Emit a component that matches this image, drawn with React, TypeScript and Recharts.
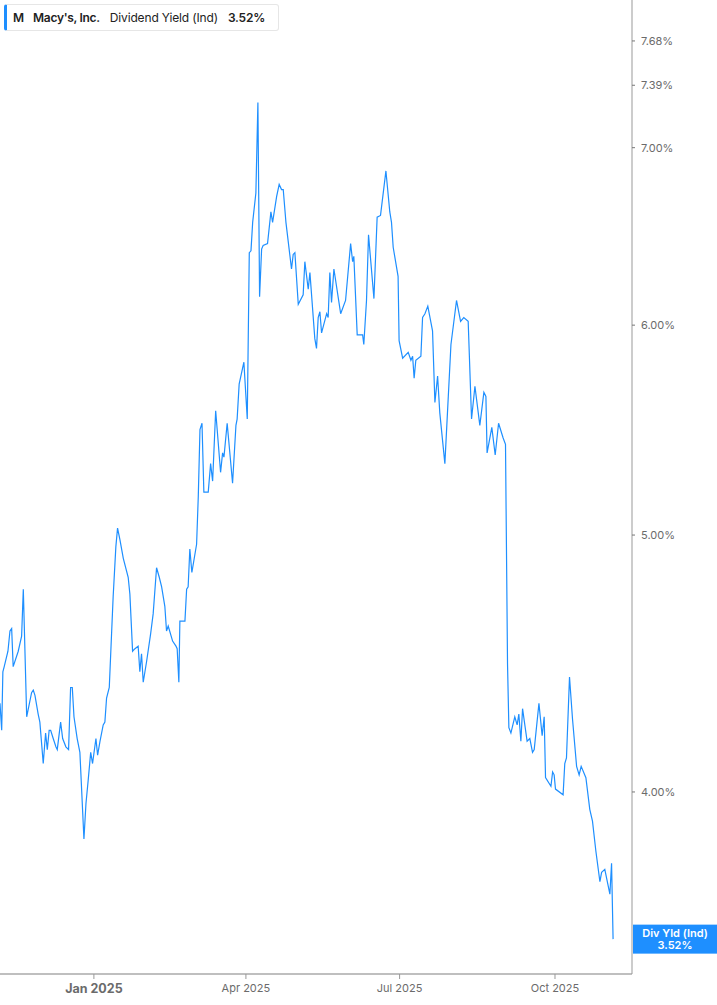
import React from 'react';
import { LineChart, Line, XAxis, YAxis, ReferenceLine } from 'recharts';

// day = calendar days since 2024-11-06 (approx), value = dividend yield in %
const days = [
  0.4, 1.4, 2.1, 2.9, 5.1, 6.3, 7.3, 8.2, 11.2, 13.2, 14.2, 16.2, 19.1, 20.1, 21.1, 23.0, 24.0, 26.0, 27.4, 28.4,
  29.5, 30.4, 31.9, 33.5, 34.3, 36.3, 37.5, 39.4, 41.0, 42.2, 43.2, 44.2, 46.1, 47.7, 50.1, 51.3, 52.6, 54.1, 55.2, 57.2,
  58.2, 59.6, 61.5, 62.5, 63.5, 65.1, 67.4, 69.0, 70.0, 71.4, 73.4, 76.3, 77.3, 78.9, 80.3, 82.2, 83.2, 84.2, 85.2, 87.2,
  89.6, 91.1, 93.1, 94.7, 96.1, 98.0, 99.0, 100.0, 102.6, 104.6, 105.3, 106.3, 106.9, 109.9, 110.9, 111.8, 112.8, 114.0, 116.8, 117.8,
  118.8, 120.0, 121.1, 123.7, 125.1, 126.3, 128.1, 131.0, 132.2, 133.0, 134.9, 138.1, 140.1, 140.8, 142.0, 144.8, 146.8, 148.0, 149.0, 150.0,
  151.9, 153.1, 154.1, 155.3, 156.2, 158.8, 160.8, 161.8, 164.2, 165.7, 167.1, 168.1, 169.7, 173.0, 174.0, 175.0, 177.0, 179.9, 180.9, 182.9,
  183.9, 186.8, 187.8, 188.8, 189.8, 190.8, 193.8, 194.7, 195.7, 196.7, 198.1, 202.1, 205.0, 208.0, 209.2, 209.9, 211.9, 215.1, 215.8, 217.4,
  218.6, 221.8, 223.7, 225.7, 228.9, 231.2, 232.2, 233.2, 236.1, 236.7, 238.8, 242.1, 243.7, 244.7, 245.6, 246.6, 249.6, 250.6, 252.0, 253.7,
  256.5, 257.9, 259.5, 260.8, 263.8, 267.4, 270.7, 273.1, 275.0, 277.6, 279.6, 281.6, 284.5, 286.9, 288.1, 288.8, 291.6, 293.6, 295.6, 298.3,
  299.7, 300.9, 301.7, 302.9, 305.2, 306.6, 307.6, 308.8, 309.8, 312.5, 314.1, 315.7, 316.7, 319.5, 321.4, 322.6, 323.4, 326.6, 327.6, 328.5,
  329.3, 333.8, 334.8, 335.8, 337.6, 339.4, 341.8, 343.3, 344.5, 347.3, 349.6, 351.2, 353.2, 355.6, 356.6, 358.5, 361.5, 362.5, 363.4,
];

const yields = [
  4.32, 4.22, 4.44, 4.46, 4.52, 4.60, 4.61, 4.46, 4.52, 4.58, 4.77, 4.27, 4.36, 4.37, 4.35, 4.28, 4.25, 4.10, 4.21, 4.15,
  4.22, 4.22, 4.19, 4.16, 4.15, 4.25, 4.19, 4.16, 4.15, 4.38, 4.38, 4.27, 4.19, 4.14, 3.84, 3.96, 4.04, 4.14, 4.10, 4.19,
  4.13, 4.18, 4.24, 4.25, 4.34, 4.38, 4.74, 4.95, 5.03, 4.98, 4.90, 4.82, 4.75, 4.52, 4.53, 4.54, 4.44, 4.51, 4.40, 4.48,
  4.59, 4.67, 4.86, 4.82, 4.78, 4.70, 4.60, 4.62, 4.56, 4.54, 4.53, 4.40, 4.64, 4.64, 4.77, 4.78, 4.94, 4.84, 4.96, 5.17,
  5.48, 5.51, 5.19, 5.19, 5.32, 5.24, 5.57, 5.28, 5.37, 5.35, 5.51, 5.23, 5.50, 5.53, 5.70, 5.81, 5.53, 6.39, 6.40, 6.56,
  6.73, 7.28, 6.15, 6.41, 6.43, 6.44, 6.62, 6.56, 6.71, 6.78, 6.75, 6.75, 6.56, 6.30, 6.38, 6.39, 6.11, 6.16, 6.34, 6.19,
  6.28, 5.93, 5.88, 6.04, 6.07, 5.96, 6.06, 6.04, 6.28, 6.12, 6.30, 6.06, 6.13, 6.44, 6.34, 6.37, 5.95, 5.95, 5.90, 6.13,
  6.49, 6.14, 6.59, 6.60, 6.86, 6.62, 6.56, 6.42, 6.26, 5.92, 5.83, 5.86, 5.82, 5.84, 5.73, 5.82, 5.84, 6.04, 6.06, 6.10,
  5.97, 5.61, 5.74, 5.56, 5.32, 5.90, 6.13, 6.02, 6.04, 6.02, 5.53, 5.69, 5.50, 5.66, 5.64, 5.37, 5.49, 5.36, 5.51, 5.44,
  5.41, 4.47, 4.23, 4.21, 4.27, 4.24, 4.28, 4.18, 4.30, 4.18, 4.19, 4.14, 4.15, 4.32, 4.20, 4.27, 4.05, 4.02, 4.07, 4.06,
  4.01, 3.99, 4.10, 4.12, 4.42, 4.26, 4.09, 4.06, 4.09, 4.05, 3.94, 3.90, 3.80, 3.70, 3.73, 3.74, 3.66, 3.76, 3.52,
];

const xTickDays = [56, 146, 237, 329];
const xTickLabels = ['Jan 2025', 'Apr 2025', 'Jul 2025', 'Oct 2025'];
const yTicks = [4, 5, 6, 7, 7.39, 7.68];
const lastValue = 3.52;

const data = days.map((d, i) => ({ day: d, value: yields[i] }));

const BLUE = '#1e8fff';
const FONT = 'Inter, "Noto Sans", Arial, sans-serif';

const XTick = (props: any) => {
  const { x, y, payload } = props;
  const idx = xTickDays.indexOf(payload.value);
  const bold = idx === 0;
  return (
    <text
      x={x}
      y={y}
      dy="0.71em"
      textAnchor="middle"
      fontFamily={FONT}
      fontSize={bold ? 12.5 : 11}
      fontWeight={bold ? 700 : 400}
      fill="#6b6b6b"
    >
      {xTickLabels[idx]}
    </text>
  );
};

const LastLabel = (props: any) => {
  const vb = props.viewBox || {};
  const x0 = vb.x + vb.width + 1;
  const yc = vb.y;
  return (
    <g>
      <rect x={x0} y={yc - 14.5} width={84} height={29} fill={BLUE} />
      <text x={x0 + 42} y={yc - 2} textAnchor="middle" fontFamily={FONT} fontSize={11} fontWeight={600} fill="#fff">
        Div Yld (Ind)
      </text>
      <text x={x0 + 42} y={yc + 10} textAnchor="middle" fontFamily={FONT} fontSize={11} fontWeight={600} fill="#fff">
        {lastValue.toFixed(2)}%
      </text>
    </g>
  );
};

export default function App() {
  return (
    <div style={{ position: 'absolute', left: 0, top: 0, width: 717, height: 1005, background: '#fff' }}>
      <LineChart width={717} height={1005} data={data} margin={{ top: 0, right: 0, bottom: 0, left: 0 }}>
        <XAxis
          dataKey="day"
          type="number"
          domain={[0.4, 374.6]}
          ticks={xTickDays}
          tick={<XTick />}
          height={31}
          axisLine={{ stroke: '#aaaaaa', strokeWidth: 1.5 }}
          tickLine={{ stroke: '#999999' }}
          tickSize={5}
          tickMargin={5}
          interval={0}
          allowDataOverflow
        />
        <YAxis
          orientation="right"
          scale="log"
          type="number"
          domain={[3.415, 7.958]}
          ticks={yTicks}
          allowDataOverflow
          width={85}
          interval={0}
          tickFormatter={(v: number) => `${v.toFixed(2)}%`}
          tick={{ fill: '#6b6b6b', fontSize: 11, fontFamily: FONT }}
          axisLine={{ stroke: '#999999' }}
          tickLine={{ stroke: '#777777' }}
          tickSize={3}
          tickMargin={6}
        />
        <Line
          type="linear"
          dataKey="value"
          stroke={BLUE}
          strokeWidth={1.2}
          dot={false}
          activeDot={false}
          isAnimationActive={false}
        />
        <ReferenceLine y={lastValue} stroke="none" label={(p: any) => <LastLabel {...p} />} />
      </LineChart>
      <div
        style={{
          position: 'absolute',
          left: 4,
          top: 4,
          height: 25,
          display: 'flex',
          alignItems: 'center',
          background: '#fff',
          border: '1px solid #e6e6e6',
          borderLeft: `3px solid ${BLUE}`,
          borderRadius: 3,
          paddingLeft: 6,
          paddingRight: 13,
          fontFamily: FONT,
          fontSize: 12,
          color: '#222',
          whiteSpace: 'nowrap',
        }}
      >
        <span style={{ fontWeight: 600, marginRight: 9 }}>M</span>
        <span style={{ fontWeight: 600, marginRight: 10, letterSpacing: -0.3 }}>Macy's, Inc.</span>
        <span style={{ fontWeight: 400, marginRight: 10, letterSpacing: -0.15 }}>Dividend Yield (Ind)</span>
        <span style={{ fontWeight: 600, letterSpacing: -0.2 }}>3.52%</span>
      </div>
    </div>
  );
}
